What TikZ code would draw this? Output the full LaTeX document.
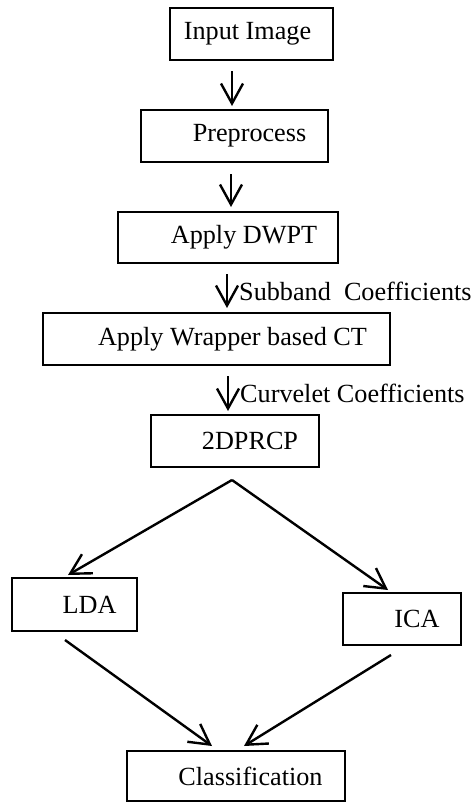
\documentclass[tikz,border=0pt]{standalone}
\usepackage{fontspec}
\setmainfont{Liberation Serif}
\usetikzlibrary{arrows.meta}

\begin{document}
\begin{tikzpicture}[x=0.5pt, y=-0.5pt,
  box/.style={draw, line width=1pt, inner sep=0pt, font=\fontsize{13.1}{15}\selectfont},
  flow/.style={line width=1.2pt, -{Straight Barb[length=10pt,width=11pt]}},
  note/.style={right, inner sep=0pt, xshift=5.5pt, font=\fontsize{13.1}{15}\selectfont}]
\useasboundingbox (0,0) rectangle (472,803);

\node[box, minimum width=81.5pt, minimum height=26pt] (img) at (251.5,34) {\hspace*{-4pt}Input Image};
\node[box, minimum width=93.5pt, minimum height=26pt] (pre) at (234.5,136) {\hspace*{15pt}Preprocess};
\node[box, minimum width=110pt, minimum height=25.5pt] (dwpt) at (228,237.5) {\hspace*{16pt}Apply DWPT};
\node[box, minimum width=173.5pt, minimum height=26pt] (ct) at (216.5,339) {\hspace*{16pt}Apply Wrapper based CT};
\node[box, minimum width=84pt, minimum height=26pt] (prcp) at (235,441) {\hspace*{15pt}2DPRCP};
\node[box, minimum width=62.5pt, minimum height=26.5pt] (lda) at (74.5,604.5) {\hspace*{15pt}LDA};
\node[box, minimum width=59pt, minimum height=26pt] (ica) at (402,619) {\hspace*{15pt}ICA};
\node[box, minimum width=109pt, minimum height=25pt] (cls) at (236,776) {\hspace*{14.5pt}Classification};

\coordinate (fork) at ([shift={(-3,12)}]prcp.south);

\draw[flow] ([shift={(-19.5,10)}]img.south) -- ([shift={(-2.5,-3)}]pre.north);
\draw[flow] ([shift={(-3.5,11)}]pre.south) -- ([shift={(3,-4)}]dwpt.north);
\draw[flow] ([shift={(-1,10)}]dwpt.south) -- ([shift={(10.5,-4)}]ct.north)
  node[note, midway] (sub) {Subband\ \ Coefficients};
\draw[flow] ([shift={(11.5,10)}]ct.south) -- ([shift={(-7,-3)}]prcp.north)
  node[note, midway] (cur) {Curvelet Coefficients};

\draw[flow] (fork) -- ([shift={(-6.5,-2)}]lda.north);
\draw[flow] (fork) -- ([shift={(-14,-2)}]ica.north);
\draw[flow] ([shift={(-9.5,8)}]lda.south) -- ([shift={(-24,-4)}]cls.north);
\draw[flow] ([shift={(-11,9)}]ica.south) -- ([shift={(8,-4)}]cls.north);
\end{tikzpicture}
\end{document}
